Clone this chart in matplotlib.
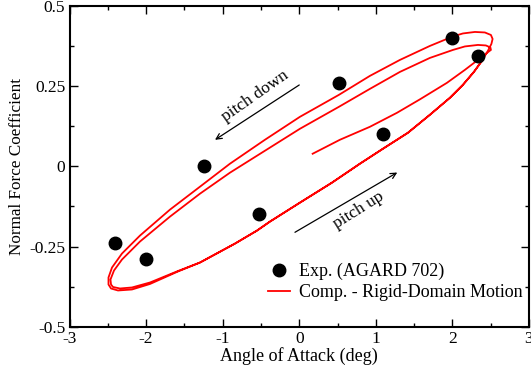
import matplotlib
matplotlib.use("Agg")
import matplotlib.pyplot as plt

plt.rcParams['font.family'] = ['Liberation Serif', 'DejaVu Serif']
plt.rcParams['axes.unicode_minus'] = False

# Experimental data (AGARD 702)
exp_alpha = [-2.40, -2.00, -1.25, -0.53, 0.52, 1.09, 2.00, 2.33]
exp_cn = [-0.24, -0.29, 0.00, -0.15, 0.26, 0.10, 0.40, 0.345]

# Computed loop (Rigid-Domain Motion), traced along the path
# first pitch-up (transient) and first pitch-down
start_alpha = [0.175, 0.531, 0.923, 1.276, 1.576, 1.928, 2.163, 2.359, 2.450, 2.503,
               2.496, 2.437, 2.333, 2.163, 2.007, 1.706, 1.315, 0.923, 0.518, 0.009,
               -0.448, -0.905, -1.296, -1.688, -2.080, -2.315, -2.419, -2.465, -2.458]
start_cn = [0.0395, 0.0831, 0.1236, 0.1672, 0.2092, 0.2606, 0.3011, 0.3369, 0.3540, 0.3633,
            0.3711, 0.3773, 0.3789, 0.3742, 0.3633, 0.3384, 0.2948, 0.2419, 0.1859, 0.1174,
            0.0489, -0.0196, -0.0850, -0.1566, -0.2344, -0.2905, -0.3247, -0.3527, -0.3683]

# lower-left turn into the second pitch-up
turn1_alpha = [-2.432, -2.341, -2.184, -1.949, -1.584]
turn1_cn = [-0.3761, -0.3808, -0.3776, -0.3621, -0.3263]

# pitch-up (lower) branch
up_alpha = [-1.296, -0.839, -0.552, -0.383, 0.009, 0.427, 0.792, 1.093, 1.419, 1.706,
            1.967, 2.137, 2.281, 2.385, 2.463, 2.509]
up_cn = [-0.2998, -0.2407, -0.2002, -0.1722, -0.1130, -0.0507, 0.0084, 0.0551, 0.1049, 0.1610,
         0.2139, 0.2544, 0.2948, 0.3291, 0.3602, 0.3820]

# outer tip and pitch-down (upper) branch
down_alpha = [2.525, 2.503, 2.424, 2.294, 2.137, 2.007, 1.706, 1.315, 0.923, 0.518,
              0.009, -0.448, -0.905, -1.296, -1.688, -2.080, -2.315, -2.445, -2.491, -2.491]
down_cn = [0.3976, 0.4100, 0.4178, 0.4194, 0.4147, 0.4054, 0.3758, 0.3322, 0.2824, 0.2232,
           0.1547, 0.0831, 0.0084, -0.0632, -0.1348, -0.2158, -0.2718, -0.3154, -0.3465, -0.3683]

# lower-left turn into the third pitch-up
turn2_alpha = [-2.458, -2.367, -2.184, -1.949, -1.584]
turn2_cn = [-0.3808, -0.3870, -0.3839, -0.3667, -0.3278]

n_end = 14  # third pitch-up ends near max incidence
comp_alpha = (start_alpha + turn1_alpha + up_alpha + down_alpha + turn2_alpha
              + up_alpha[:n_end])
comp_cn = (start_cn + turn1_cn + up_cn + down_cn + turn2_cn + up_cn[:n_end])

fig = plt.figure(figsize=(5.31, 3.68), dpi=100)
ax = fig.add_axes([0.1309, 0.1122, 0.8653, 0.8712])

ax.plot(comp_alpha, comp_cn, color='#ff0000', lw=1.3, zorder=2,
        label='Comp. - Rigid-Domain Motion', solid_joinstyle='round')
ax.plot(exp_alpha, exp_cn, 'o', color='black', ms=9, zorder=3, linestyle='none',
        label='Exp. (AGARD 702)')

ax.set_xlim(-3, 3)
ax.set_ylim(-0.5, 0.5)
ax.set_xticks([-3, -2, -1, 0, 1, 2, 3])
ax.set_xticklabels(['-3', '-2', '-1', '0', '1', '2', '3'])
ax.set_yticks([-0.5, -0.25, 0, 0.25, 0.5])
ax.set_yticklabels(['-0.5', '-0.25', '0', '0.25', '0.5'])
ax.set_xticks([-2.5, -1.5, -0.5, 0.5, 1.5, 2.5], minor=True)
ax.set_yticks([-0.375, -0.125, 0.125, 0.375], minor=True)
ax.tick_params(which='both', direction='in', top=True, right=True, labelsize=12.5,
               width=1.0, colors='black')
ax.tick_params(which='major', length=6, pad=3)
ax.tick_params(which='minor', length=3)
for s in ax.spines.values():
    s.set_linewidth(1.5)

ax.set_xlabel('Angle of Attack (deg)', fontsize=13, labelpad=0)
ax.set_ylabel('Normal Force Coefficient', fontsize=12.3, labelpad=3)

# annotations
ax.annotate('', xy=(-1.10, 0.083), xytext=(0.0, 0.254),
            arrowprops=dict(arrowstyle='->', lw=0.9, color='black',
                            shrinkA=0, shrinkB=0))
ax.text(-0.58, 0.22, 'pitch down', rotation=35, fontsize=12.5,
        ha='center', va='center')
ax.annotate('', xy=(1.28, -0.019), xytext=(-0.056, -0.2055),
            arrowprops=dict(arrowstyle='->', lw=0.9, color='black',
                            shrinkA=0, shrinkB=0))
ax.text(0.77, -0.138, 'pitch up', rotation=32, fontsize=12.5,
        ha='center', va='center')

handles, labels = ax.get_legend_handles_labels()
ax.legend(handles[::-1], labels[::-1], loc='lower right', frameon=False,
          fontsize=13, handlelength=1.2, handletextpad=0.5, labelspacing=0.25,
          borderaxespad=0.2, bbox_to_anchor=(1.01, 0.045))

fig.savefig('out.png', dpi=100)
